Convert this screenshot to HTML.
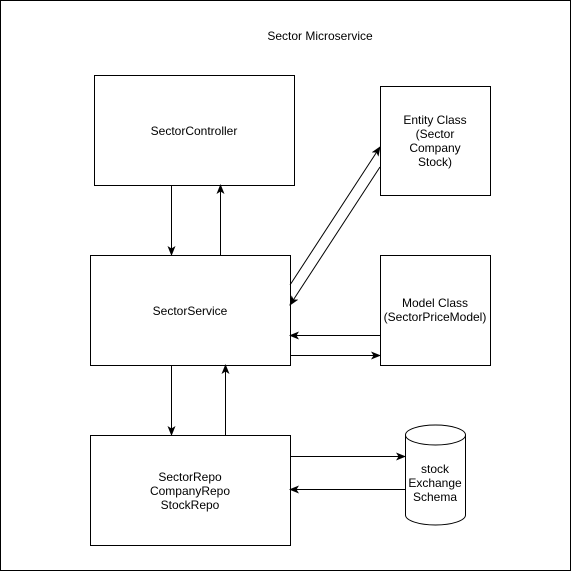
<!DOCTYPE html>
<html><head><style>body{margin:0;background:#fff}</style></head><body>
<svg width="571" height="571" xmlns="http://www.w3.org/2000/svg" font-family="Liberation Sans, Helvetica, sans-serif" font-size="12">
<defs><marker id="a" markerWidth="10" markerHeight="8" refX="9" refY="4" orient="auto" markerUnits="userSpaceOnUse"><path d="M0,0 L10,4 L0,8 L2.5,4 Z" fill="#000"/></marker></defs>
<rect x="0.5" y="0.5" width="570" height="570" fill="#fff" stroke="#000"/>
<text x="320" y="40" text-anchor="middle">Sector Microservice</text>
<g fill="#fff" stroke="#000" stroke-width="1">
<rect x="94.5" y="75.5" width="200" height="110"/>
<rect x="380.5" y="86.5" width="110" height="109"/>
<rect x="90.5" y="255.5" width="200" height="110"/>
<rect x="380.5" y="255.5" width="110" height="110"/>
<rect x="90.5" y="435.5" width="200" height="110"/>
<path d="M405.5,435 L405.5,515 A30,10 0 0 0 465.5,515 L465.5,435 A30,10 0 0 0 405.5,435 A30,10 0 0 0 465.5,435"/>
</g>
<g text-anchor="middle">
<text x="194" y="135">SectorController</text>
<text x="435" y="124">Entity Class</text><text x="435" y="138">(Sector</text><text x="435" y="152">Company</text><text x="435" y="166">Stock)</text>
<text x="190" y="315">SectorService</text>
<text x="435" y="307">Model Class</text><text x="435" y="321">(SectorPriceModel)</text>
<text x="190" y="481">SectorRepo</text><text x="190" y="495">CompanyRepo</text><text x="190" y="509">StockRepo</text>
<text x="435" y="473">stock</text><text x="435" y="487">Exchange</text><text x="435" y="501">Schema</text>
</g>
<g stroke="#000" stroke-width="1" marker-end="url(#a)">
<line x1="171.5" y1="185" x2="171.5" y2="255"/>
<line x1="220.5" y1="255" x2="220.5" y2="185"/>
<line x1="171.5" y1="365" x2="171.5" y2="435"/>
<line x1="225.5" y1="435" x2="225.5" y2="365"/>
<line x1="290" y1="285" x2="380" y2="147"/>
<line x1="380" y1="167" x2="290" y2="305"/>
<line x1="380" y1="335.5" x2="290" y2="335.5"/>
<line x1="290" y1="355.5" x2="380" y2="355.5"/>
<line x1="290" y1="456.5" x2="405" y2="456.5"/>
<line x1="405" y1="489.5" x2="290" y2="489.5"/>
</g>
</svg>
</body></html>
